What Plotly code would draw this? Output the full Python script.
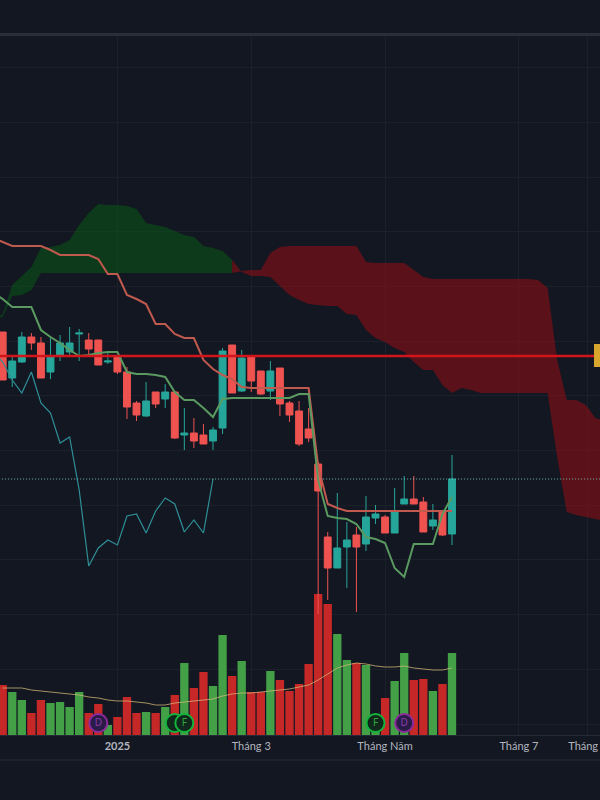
import plotly.graph_objects as go

BG = "#131722"
LABEL = "#b2b5be"

# ---- bars (index 0..47); price units are arbitrary chart units
opens = [468,422,438,463,457,428,445,448,466,460,460,438,443,428,397,384,408,401,408,365,367,365,359,372,455,409,443,429,409,432,397,389,371,336,263,232,253,265,256,282,283,267,296,301,298,274,289,266]
highs = [468,443,468,467,463,462,465,473,471,467,460,449,444,433,399,418,408,416,408,392,382,376,373,452,455,450,443,429,439,432,399,399,392,338,268,307,278,273,304,295,285,312,324,324,303,296,290,345]
lows = [420,413,437,450,422,421,439,445,439,445,435,436,426,381,379,383,392,392,361,350,352,356,350,366,407,408,408,405,400,384,378,354,358,186,200,232,212,188,249,276,267,267,296,296,268,270,264,255]
closes = [420,439,463,457,422,443,457,457,467,451,435,439,428,393,385,399,396,408,362,367,359,356,370,449,407,442,419,406,429,396,385,356,362,309,232,252,260,253,283,286,267,288,301,296,268,280,265,321]
volumes = [50,43,35,22,35,32,33,28,43,22,31,10,18,38,22,23,22,28,40,72,47,63,49,100,59,74,43,43,64,55,44,51,71,141,131,101,75,72,70,12,37,54,82,55,56,44,51,82]
volume_ma = [47,47,47,45,44,43,42,41,40,38,37,35,34,34,33,32,30,30,32,33,34,35,36,39,41,42,42,43,44,45,46,48,50,55,61,67,70,72,71,69,68,68,69,67,66,65,65,67]

# ---- Ichimoku lines, index -1..47 (chikou -1..22)
kijun = [562,558,554,554,554,554,550,545,545,545,545,541,526,526,505,501,496,476,476,466,462,462,440,431,425,421,413,412,412,412,412,412,412,412,334,296,292,289,289,289,289,289,289,289,289,289,289,289,289]
tenkan = [507,501,493,493,493,470,463,457,450,444,445,447,448,448,428,426,426,425,423,408,400,400,392,383,401,402,402,402,402,402,402,402,406,406,320,284,282,281,276,263,261,257,232,223,256,256,256,286,303]
chikou = [448,438,420,407,428,397,387,357,363,310,234,252,260,255,284,286,267,289,302,296,268,280,267,321]

# ---- cloud spans, index -1..63
span_a = [480,486,515,524,533,552,553,555,560,575,587,596,595,595,594,591,577,575,573,569,565,563,554,552,549,540,528,524,524,523,514,505,500,496,495,494,494,486,485,470,462,458,452,448,438,430,430,415,407,412,410,407,407,407,407,407,407,407,407,343,288,285,283,281,279]
span_b = [481,483,504,505,510] + [527]*21 + [529,530,530,547,553] + [554]*8 + [538] + [537]*4 + [530,523] + [521]*11 + [520,512,440,400,400,395,382,379]

support_level = 444
last_price = 321
tick_positions = [12, 26, 40, 54, 61.2]
tick_labels = ["<b>2025</b>", "Tháng 3", "Tháng Năm", "Tháng 7", "Tháng 8"]
event_positions_back = [18]
event_positions_f = [19, 39]
event_positions_d = [10, 42]
event_height = 12

idx = list(range(48))
line_idx = list(range(-1, 48))
span_idx = list(range(-1, 64))
chikou_idx = list(range(-1, 23))
cut = span_idx.index(24)

GREEN_BAR, RED_BAR = "#43a047", "#c62828"
TEAL, CORAL = "#26a69a", "#ef5350"

fig = go.Figure()

# volume (main y axis, drawn beneath the price overlay)
fig.add_trace(go.Bar(x=idx, y=volumes, marker_color=[GREEN_BAR if c >= o else RED_BAR for o, c in zip(opens, closes)],
                     marker_line_width=0, yaxis="y"))
fig.add_trace(go.Scatter(x=idx, y=volume_ma, mode="lines", yaxis="y",
                         line=dict(color="rgba(214,186,120,0.75)", width=1)))


def events(xs, label, line_c, fill_c, text_c):
    fig.add_trace(go.Scatter(x=xs, y=[event_height] * len(xs), mode="markers+text", yaxis="y",
                             text=[label] * len(xs), textposition="middle center",
                             textfont=dict(family="Noto Sans", size=10, color=text_c),
                             marker=dict(size=18, color=fill_c, line=dict(color=line_c, width=2))))


events(event_positions_back, "", "#12b53a", "#10291c", "#22a83c")
events(event_positions_f, "F", "#12b53a", "#10291c", "#2fa83f")
events(event_positions_d, "D", "#8e2a9c", "#2a1c48", "#8a3aa8")


def cloud(a, b, x, fill):
    fig.add_trace(go.Scatter(x=x, y=a, mode="lines", yaxis="y2", line=dict(width=0), fill=None))
    fig.add_trace(go.Scatter(x=x, y=b, mode="lines", yaxis="y2", line=dict(width=0), fill="tonexty", fillcolor=fill))


cloud(span_a[:cut + 1], span_b[:cut + 1], span_idx[:cut + 1], "rgba(10,80,22,0.62)")
cloud(span_a[cut:], span_b[cut:], span_idx[cut:], "rgba(136,14,20,0.62)")

fig.add_trace(go.Candlestick(x=idx, open=opens, high=highs, low=lows, close=closes, yaxis="y2", whiskerwidth=0,
                             increasing=dict(line=dict(color=TEAL, width=1), fillcolor=TEAL),
                             decreasing=dict(line=dict(color=CORAL, width=1), fillcolor=CORAL)))

fig.add_trace(go.Scatter(x=chikou_idx, y=chikou, mode="lines", yaxis="y2", line=dict(color="#2f8f97", width=1.2)))
fig.add_trace(go.Scatter(x=span_idx, y=[last_price] * len(span_idx), mode="lines", yaxis="y2",
                         line=dict(color="rgba(130,215,200,0.85)", width=1, dash="1px,2px")))
fig.add_trace(go.Scatter(x=line_idx, y=kijun, mode="lines", yaxis="y2", line=dict(color="#c0594e", width=2)))
fig.add_trace(go.Scatter(x=line_idx, y=tenkan, mode="lines", yaxis="y2", line=dict(color="#5a9a60", width=2)))
fig.add_trace(go.Scatter(x=span_idx, y=[support_level] * len(span_idx), mode="lines", yaxis="y2",
                         line=dict(color="#d2151b", width=2.4)))

fig.update_layout(
    width=600, height=800, margin=dict(l=0, r=0, t=36, b=65, autoexpand=False),
    paper_bgcolor=BG, plot_bgcolor=BG, showlegend=False, bargap=0.13, boxgap=0.28, boxgroupgap=0,
    xaxis=dict(range=[-0.282, 62.48], tickmode="array", tickvals=tick_positions, ticktext=tick_labels,
               showgrid=True, gridcolor="#1c202b", gridwidth=1, zeroline=False, showline=True, linecolor="#252a36",
               ticks="", rangeslider=dict(visible=False), ticklabeloverflow="allow", automargin=False,
               tickfont=dict(family="Lato", size=11, color=LABEL), ticklabelstandoff=1),
    yaxis=dict(range=[0, 699], tick0=11, dtick=54.7, showgrid=True, gridcolor="#1c202b", gridwidth=1,
               zeroline=False, showticklabels=False, ticks="", automargin=False),
    yaxis2=dict(range=[65, 764], overlaying="y", showgrid=False, zeroline=False, showticklabels=False, ticks="",
                automargin=False),
    shapes=[
        dict(type="rect", xref="paper", yref="paper", x0=0, x1=1, y0=1.0, y1=1.0 + 3 / 699,
             line_width=0, fillcolor="#2a2e39"),
        dict(type="line", xref="paper", yref="paper", x0=0, x1=1, y0=-25 / 699, y1=-25 / 699,
             line=dict(color="#2a2e39", width=1)),
        dict(type="rect", xref="paper", yref="paper", x0=594 / 600, x1=1, y0=(735 - 367) / 699, y1=(735 - 344) / 699,
             line_width=0, fillcolor="#d9a62e", layer="above"),
    ],
)

fig.write_html("out.html", config=dict(displayModeBar=False),
               post_script="document.body.style.margin='0';document.body.style.background='%s';document.body.style.overflow='hidden';" % BG)
